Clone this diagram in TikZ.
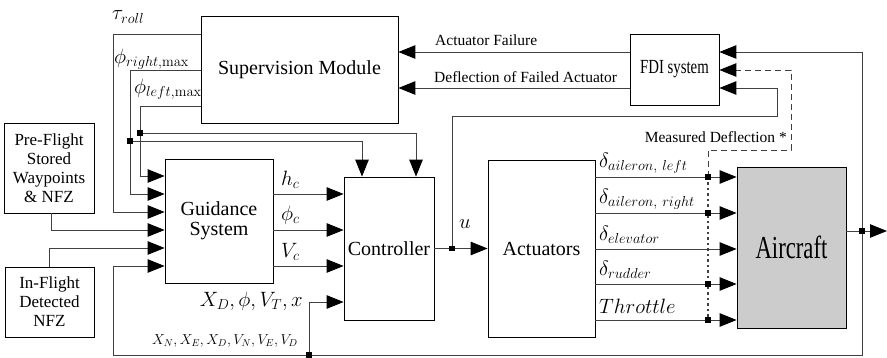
\documentclass[tikz,border=0pt]{standalone}
\usepackage[no-math]{fontspec}
\setmainfont{Liberation Serif}
\newfontfamily\condA{Liberation Serif}[FakeStretch=0.71]
\newfontfamily\condB{Liberation Serif}[FakeStretch=0.74]
\usetikzlibrary{arrows.meta}
\begin{document}
\begin{tikzpicture}[x=1pt,y=-1pt,
  box/.style={draw=black, line width=0.8pt, inner sep=0pt, align=center, font=\fontsize{20}{20}\selectfont},
  wire/.style={draw=black!75, line width=0.9pt},
  arr/.style={wire, -{Triangle[length=17pt,width=13.5pt,color=black,fill=black]}},
  jdot/.style={fill=black, rectangle, minimum size=5pt, inner sep=0pt},
  lbl/.style={font=\fontsize{15.5}{17}\selectfont, inner sep=0pt},
  ml/.style={font=\fontsize{20}{22}\selectfont, inner sep=0pt}]
\useasboundingbox (0,0) rectangle (887,358);

% blocks
\node[box, minimum width=197pt, minimum height=107pt] (sup) at (299.5,69.5) {Supervision Module};
\node[box, minimum width=89pt, minimum height=71pt, font=\fontsize{20}{20}\condB] (fdi) at (674.5,69.5) {FDI system};
\node[box, minimum width=90pt, minimum height=90pt, font=\fontsize{17}{19}\selectfont] (pre) at (49,168) {Pre-Flight\\Stored\\Waypoints\\\& NFZ};
\node[box, minimum width=89pt, minimum height=70pt, font=\fontsize{17}{19}\selectfont] (inf) at (49.5,302) {In-Flight\\Detected\\NFZ};
\node[box, minimum width=108pt, minimum height=124pt] (gui) at (219,221) {Guidance\\System};
\node[box, minimum width=90pt, minimum height=143pt] (con) at (389,248.5) {Controller};
\node[box, minimum width=107pt, minimum height=177pt] (act) at (541.5,248.5) {Actuators};
\node[box, fill=black!20, minimum width=109pt, minimum height=161pt, font=\fontsize{32}{32}\condA] (air) at (791.5,247.5) {Aircraft};

% junctions
\node[jdot] (jr) at (130,141) {};
\node[jdot] (jl) at (140,133) {};
\node[jdot] (ju) at (452,248.5) {};
\node[jdot] (jo) at (862,231) {};
\node[jdot] (jb) at (309,355) {};
\node[jdot] (d1) at (708,177) {};
\node[jdot] (d2) at (708,213) {};
\node[jdot] (d4) at (708,284) {};
\node[jdot] (d5) at (708,320) {};

% helper coordinates
\coordinate (tauc) at (113,34);
\coordinate (rc) at (130,70);
\coordinate (lc) at (140,106);
\coordinate (cr) at (362,141);
\coordinate (cl) at (416,133);
\coordinate (g1) at (0,176);
\coordinate (g2) at (0,194);
\coordinate (g3) at (0,212);
\coordinate (g4) at (0,230);
\coordinate (g5) at (0,248);
\coordinate (g6) at (0,266);
\coordinate (o1) at (0,194);
\coordinate (o2) at (0,230);
\coordinate (o3) at (0,266);
\coordinate (cx) at (0,302);
\coordinate (fbl) at (113,355);
\coordinate (uf) at (777,116);
\coordinate (md) at (791,150);
\coordinate (f1) at (0,52);
\coordinate (f2) at (0,70);
\coordinate (f3) at (0,88);
\coordinate (a1) at (0,177);
\coordinate (a2) at (0,213);
\coordinate (a3) at (0,249);
\coordinate (a4) at (0,284);
\coordinate (a5) at (0,320);
\coordinate (out) at (887,231);

% supervision to guidance / controller
\draw[arr] (sup.west |- tauc) -- (tauc) |- (gui.west |- g3);
\draw[arr] (sup.west |- rc) -- (rc) |- (gui.west |- g2);
\draw[arr] (sup.west |- lc) -- (lc) |- (gui.west |- g1);
\draw[arr] (jr.center) -- (cr) -- (cr |- con.north);
\draw[arr] (jl.center) -- (cl) -- (cl |- con.north);

% external inputs
\draw[arr] ([xshift=2pt]pre.south) |- (gui.west |- g4);
\draw[arr] (inf.north) |- (gui.west |- g5);

% feedback
\draw[arr] (jo.center) |- (fbl) |- (gui.west |- g6);
\draw[arr] (jb.center) |- (con.west |- cx);

% guidance to controller
\draw[arr] (gui.east |- o1) -- (con.west |- o1);
\draw[arr] (gui.east |- o2) -- (con.west |- o2);
\draw[arr] (gui.east |- o3) -- (con.west |- o3);

% controller to actuators
\draw[arr] (con.east) -- (act.west);
\draw[arr] (ju.center) |- (uf) |- (fdi.east |- f3);

% FDI to supervision
\draw[arr] (fdi.west |- f1) -- (sup.east |- f1);
\draw[arr] (fdi.west |- f3) -- (sup.east |- f3);

% actuators to aircraft
\draw[arr] (act.east |- a1) -- (air.west |- a1);
\draw[arr] (act.east |- a2) -- (air.west |- a2);
\draw[arr] (act.east |- a3) -- (air.west |- a3);
\draw[arr] (act.east |- a4) -- (air.west |- a4);
\draw[arr] (act.east |- a5) -- (air.west |- a5);

% aircraft output
\draw[arr] (air.east |- out) -- (out);
\draw[arr] (jo.center) |- (fdi.east |- f1);

% measured deflection
\draw[arr, dash pattern=on 6pt off 4pt] (d1.center) |- (md) |- (fdi.east |- f2);
\draw[wire, line width=1.1pt, dash pattern=on 2.5pt off 3pt] (d1.center) -- (d5.center);

% redraw junctions on top
\foreach \n in {jr,jl,ju,jo,jb,d1,d2,d4,d5} \fill (\n.south west) rectangle (\n.north east);

% labels
\node[lbl, anchor=west] (laf) at (435,40) {Actuator Failure};
\node[lbl, anchor=west] (ldf) at (434,77) {Deflection of Failed Actuator};
\node[lbl, anchor=east] (lmd) at (787,137) {Measured Deflection *};
\node[ml, anchor=west] (ltau) at (112,17) {$\tau_{roll}$};
\node[ml, anchor=west] (lphr) at (114,59) {$\phi_{right,\max}$};
\node[ml, anchor=west] (lphl) at (134,89) {$\phi_{left,\max}$};
\node[ml, anchor=west] (lhc) at (281,180) {$h_c$};
\node[ml, anchor=west] (lpc) at (281,215) {$\phi_c$};
\node[ml, anchor=west] (lvc) at (281,252) {$V_c$};
\node[ml] (lu) at (465,224) {$u$};
\node[ml, anchor=east] (lx) at (303,301) {$X_D,\phi,V_T,x$};
\node[font=\fontsize{14}{16}\selectfont, inner sep=0pt, anchor=east] (lxn) at (298,341) {$X_N,X_E,X_D,V_N,V_E,V_D$};
\node[ml, anchor=west] (ld1) at (599,163) {$\delta_{aileron,\ left}$};
\node[ml, anchor=west] (ld2) at (599,199) {$\delta_{aileron,\ right}$};
\node[ml, anchor=west] (ld3) at (599,235) {$\delta_{elevator}$};
\node[ml, anchor=west] (ld4) at (599,270) {$\delta_{rudder}$};
\node[ml, anchor=west] (ld5) at (599,306) {$Throttle$};
\end{tikzpicture}
\end{document}
